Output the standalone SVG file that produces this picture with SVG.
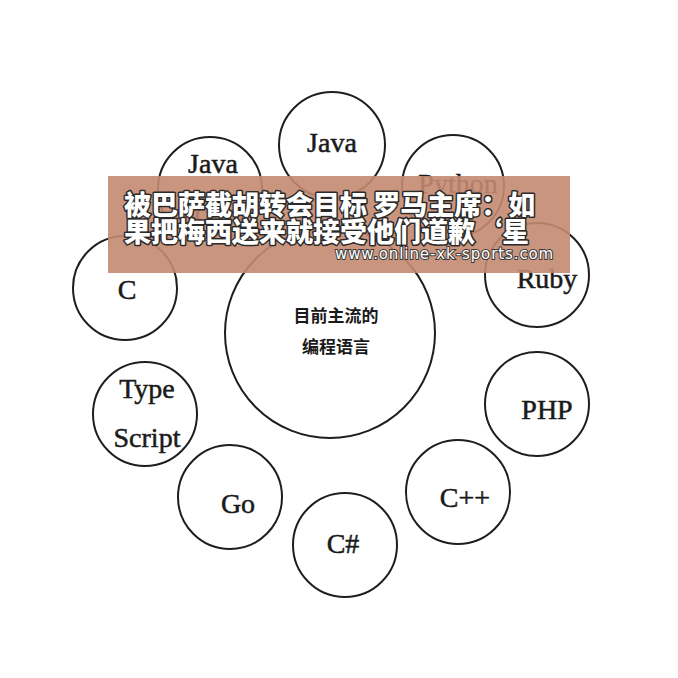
<svg xmlns="http://www.w3.org/2000/svg" width="678" height="678" viewBox="0 0 678 678">
<style>
  .c { fill: none; stroke: #1e1e1e; stroke-width: 2; }
  .t { font-family: "Liberation Serif", "DejaVu Serif", serif; font-size: 28px; fill: #1a1a1a; stroke: #1a1a1a; stroke-width: 0.5; text-anchor: middle; }
  .cn { font-family: "Noto Sans CJK SC", sans-serif; font-size: 17px; font-weight: bold; fill: #1a1a1a; text-anchor: middle; }
  .ban { font-family: "Noto Sans CJK SC", sans-serif; font-size: 27px; font-weight: 900; fill: #ffffff; stroke: #2a2a2a; stroke-width: 3; paint-order: stroke; stroke-linejoin: round; }
  .url { font-family: "DejaVu Sans", sans-serif; font-size: 15px; fill: #ffffff; stroke: #3a3a3a; stroke-width: 2; paint-order: stroke; letter-spacing: 0.9px; }
</style>
<rect width="678" height="678" fill="#ffffff"/>
<g id="center"><circle class="c" cx="330" cy="333" r="105"/><text class="cn" x="336" y="322">目前主流的</text><text class="cn" x="336" y="353">编程语言</text></g>
<g id="java"><circle class="c" cx="332" cy="145" r="53"/><text class="t" x="332" y="152">Java</text></g>
<g id="javascript"><circle class="c" cx="210" cy="189" r="52"/><text class="t" x="213" y="173">Java</text><text class="t" x="213" y="222">Script</text></g>
<g id="python"><circle class="c" cx="453" cy="186" r="51"/><text class="t" x="458" y="193">Python</text></g>
<g id="c"><circle class="c" cx="125" cy="288" r="52"/><text class="t" x="127" y="299">C</text></g>
<g id="ruby"><circle class="c" cx="537" cy="275" r="52"/><text class="t" x="547" y="288">Ruby</text></g>
<g id="typescript"><circle class="c" cx="145" cy="414" r="52"/><text class="t" x="147" y="398">Type</text><text class="t" x="147" y="447">Script</text></g>
<g id="php"><circle class="c" cx="537" cy="404" r="52"/><text class="t" x="547" y="419">PHP</text></g>
<g id="go"><circle class="c" cx="230" cy="497" r="52"/><text class="t" x="238" y="513">Go</text></g>
<g id="cpp"><circle class="c" cx="458" cy="492" r="52"/><text class="t" x="465" y="507">C++</text></g>
<g id="csharp"><circle class="c" cx="345" cy="545" r="52"/><text class="t" x="343" y="553">C#</text></g>
<g id="connectors"></g>
<g id="banner">
  <rect x="108" y="176" width="462" height="97" fill="#c48a70" fill-opacity="0.9"/>
  <text class="ban" x="124" y="215">被巴萨截胡转会目标 罗马主席：如</text>
  <text class="ban" x="124" y="242">果把梅西送来就接受他们道歉‘星</text>
  <text class="url" x="335" y="259">www.online-xk-sports.com</text>
</g>
</svg>
